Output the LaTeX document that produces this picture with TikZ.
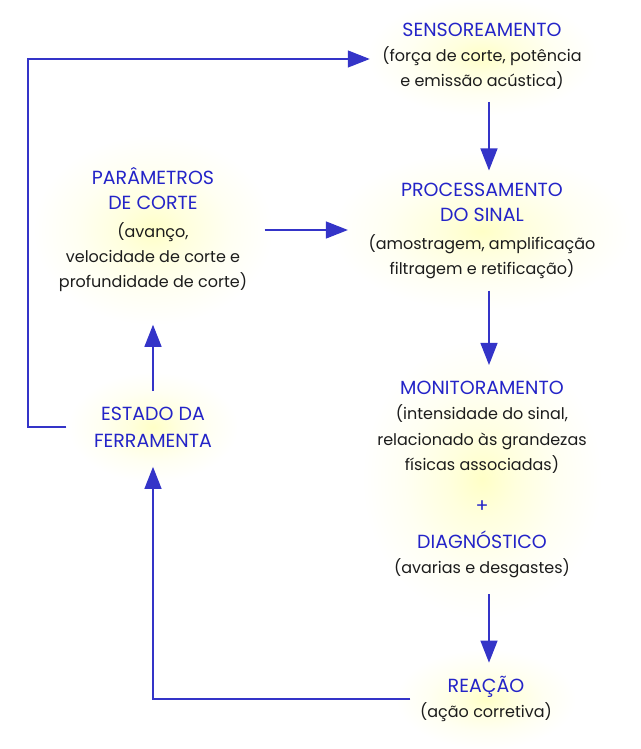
\documentclass[tikz,border=0pt]{standalone}
\usepackage{fontspec}
\setmainfont{Poppins}
\usetikzlibrary{arrows.meta,positioning,backgrounds}

\definecolor{azul}{RGB}{36,36,200}
\definecolor{linha}{RGB}{52,52,200}
\definecolor{texto}{RGB}{28,28,28}
\colorlet{brilhoA}{yellow!22}
\colorlet{brilhoB}{yellow!13}
\colorlet{brilhoC}{yellow!5}
\pgfdeclareradialshading{brilho}{\pgfpoint{0bp}{0bp}}{color(0bp)=(brilhoA); color(7bp)=(brilhoB); color(16bp)=(brilhoC); color(25bp)=(white); color(50bp)=(white)}
\newcommand{\tit}[1]{{\fontsize{19}{25}\selectfont\color{azul}#1}}

\begin{document}
\begin{tikzpicture}[x=1pt,y=-1pt,->,>={Triangle[length=22pt,width=17pt]},
                    linha, line width=1.3pt]
	  \tikzstyle{etapa}=[align=center,text=texto,inner sep=0pt,font=\fontsize{16}{25}\selectfont]

	  \useasboundingbox (0,0) rectangle (640,749);

	  \node[etapa] (sens)   at (482,56)  {\tit{SENSOREAMENTO}\\(força de corte, potência\\e emissão acústica)};
	  \node[etapa] (proc)   at (482,231) {\tit{PROCESSAMENTO}\\\tit{DO SINAL}\\[3pt](amostragem, amplificação\\filtragem e retificação)};
	  \node[etapa] (param)  at (153,230) {\tit{PARÂMETROS}\\\tit{DE CORTE}\\[3pt](avanço,\\velocidade de corte e\\profundidade de corte)};
	  \node[etapa] (estado) at (153,427) {\tit{ESTADO DA}\\[2pt]\tit{FERRAMENTA}};
	  \node[etapa] (mon)    at (482,479) {\tit{MONITORAMENTO}\\(intensidade do sinal,\\[1pt]relacionado às grandezas\\físicas associadas)\\[17pt]\tit{+}\\[11pt]\tit{DIAGNÓSTICO}\\(avarias e desgastes)};
	  \node[etapa] (reac)   at (486,699) {\tit{REAÇÃO}\\(ação corretiva)};
	  \coordinate (canto) at (28,0);

	  % brilho amarelo
	  \begin{scope}[on background layer]
	    \foreach \n/\rx/\ry in {sens/115pt/60pt, proc/150pt/80pt, param/120pt/95pt,
	                           estado/85pt/55pt, mon/120pt/140pt, reac/90pt/50pt}
	      \shade[shading=brilho] (\n.center) ellipse [x radius=\rx, y radius=\ry];
	  \end{scope}

	  \draw[shorten <=12pt,shorten >=12pt] ([xshift=7pt]sens.south) -- ([xshift=7pt]sens.south |- proc.north);
	  \draw[shorten <=11pt,shorten >=15pt] ([xshift=7pt]proc.south) -- ([xshift=7pt]proc.south |- mon.north);
	  \draw[shorten <=16pt,shorten >=13pt] ([xshift=7pt]mon.south) -- ([xshift=7pt]mon.south |- reac.north);
	  \draw[shorten <=17pt,shorten >=20pt] (param.east) -- (param.east -| proc.west);
	  \draw[shorten <=15pt,shorten >=32pt] (estado.north) -- (param.south);
	  \draw[shorten <=27pt,shorten >=12pt] (estado.west) -- (estado.west -| canto) |- ([yshift=-3pt]sens.west);
	  \draw[shorten <=9pt,shorten >=19pt] (reac.west) -| (estado.south);
	\end{tikzpicture}
\end{document}
